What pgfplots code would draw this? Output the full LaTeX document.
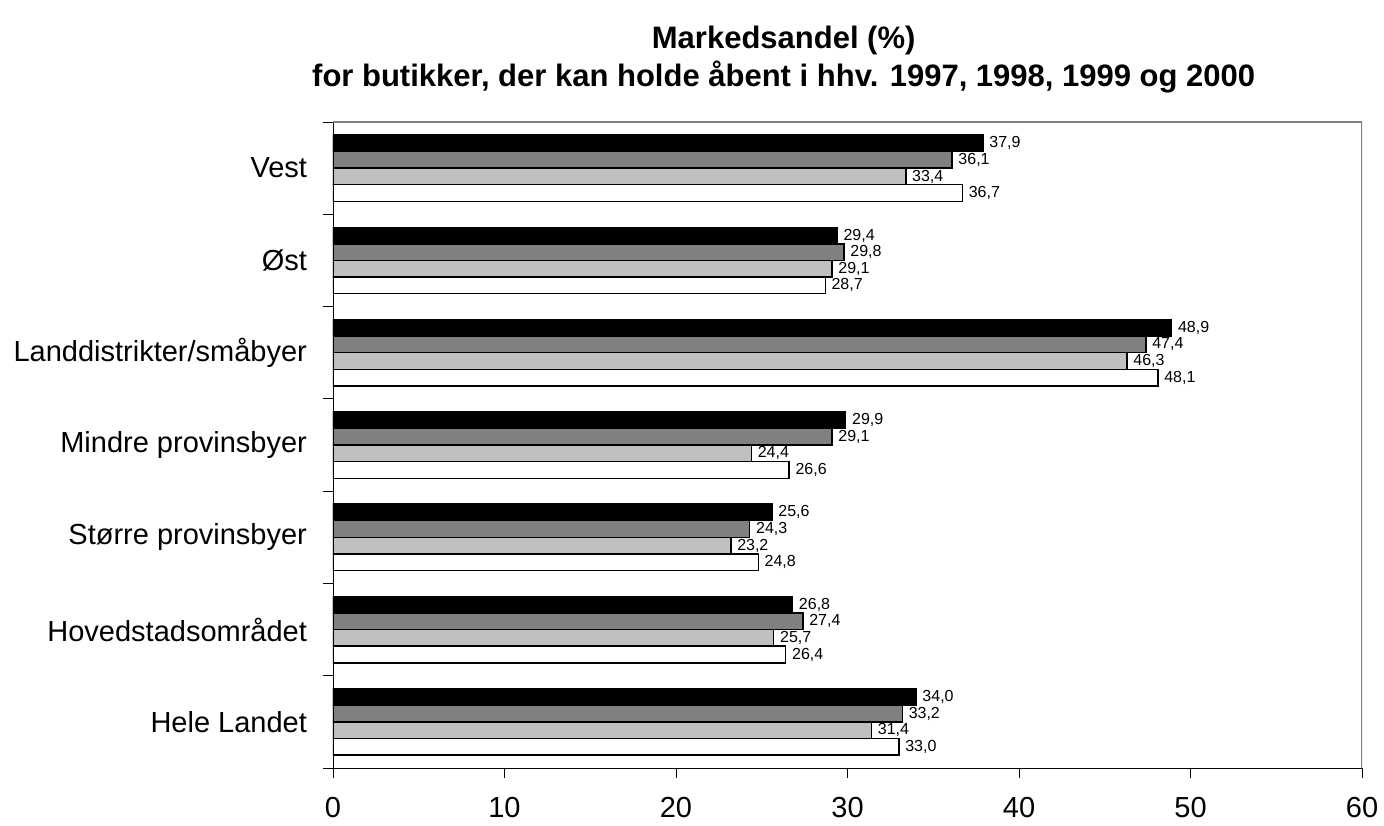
\documentclass[border=0pt]{standalone}
\usepackage{pgfplots}
\pgfplotsset{compat=1.18}
\usepackage{fontspec}
\setmainfont{Liberation Sans}

\definecolor{darkgr}{HTML}{808080}
\definecolor{lightgr}{HTML}{C0C0C0}

\begin{document}
\begin{tikzpicture}
\begin{axis}[
    at={(0,0)}, anchor=south west,
    scale only axis,
    width=514.5pt, height=323pt,
    xbar,
    bar width=0.18,
    xmin=0, xmax=60,
    ymin=-0.5, ymax=6.5,
    xtick={0,10,...,60},
    ytick={-0.5,0.5,...,6.5},
    yticklabels={},
    extra y ticks={0,...,6},
    extra y tick labels={Hele Landet, Hovedstadsområdet, Større provinsbyer,
        Mindre provinsbyer, Landdistrikter/småbyer, Øst, Vest},
    extra y tick style={major tick length=0pt},
    tick align=outside,
    major tick length=5pt,
    tick style={black, thin},
    axis x line*=bottom,
    axis y line*=left,
    axis line style={black, thin, -},
    tick label style={font=\fontsize{14.5}{16}\selectfont},
    yticklabel style={xshift=-9.5pt},
    xticklabel style={yshift=-6pt},
    /pgf/number format/assume math mode=true,
    point meta=x,
    nodes near coords={\pgfmathprintnumber[use comma,fixed,fixed zerofill,precision=1]{\pgfplotspointmeta}},
    every node near coord/.append style={font=\fontsize{8}{9}\selectfont, text=black, anchor=west, xshift=-0.5pt},
    title={Markedsandel (\%)\\for butikker, der kan holde åbent i hhv. 1997, 1998, 1999 og 2000},
    title style={font=\bfseries\fontsize{15.5}{19}\selectfont, align=center,
        at={(rel axis cs:0.438,1)}, anchor=south, yshift=5pt},
]
% 2000 (white)
\addplot[draw=black, fill=white, line width=0.7pt, bar shift=-0.27] coordinates {
    (33.0,0) (26.4,1) (24.8,2) (26.6,3) (48.1,4) (28.7,5) (36.7,6)
};
% 1999 (light gray)
\addplot[draw=black, fill=lightgr, line width=0.7pt, bar shift=-0.09] coordinates {
    (31.4,0) (25.7,1) (23.2,2) (24.4,3) (46.3,4) (29.1,5) (33.4,6)
};
% 1998 (dark gray)
\addplot[draw=black, fill=darkgr, line width=0.7pt, bar shift=0.09] coordinates {
    (33.2,0) (27.4,1) (24.3,2) (29.1,3) (47.4,4) (29.8,5) (36.1,6)
};
% 1997 (black)
\addplot[draw=black, fill=black, line width=0.7pt, bar shift=0.27] coordinates {
    (34.0,0) (26.8,1) (25.6,2) (29.9,3) (48.9,4) (29.4,5) (37.9,6)
};
\draw[gray, line width=0.8pt] (rel axis cs:0,1) -- (rel axis cs:1,1) -- (rel axis cs:1,0);
\end{axis}
\pgfresetboundingbox
\path[use as bounding box] (-166.5pt,-28.5pt) rectangle (525.5pt,384pt);
\end{tikzpicture}
\end{document}
